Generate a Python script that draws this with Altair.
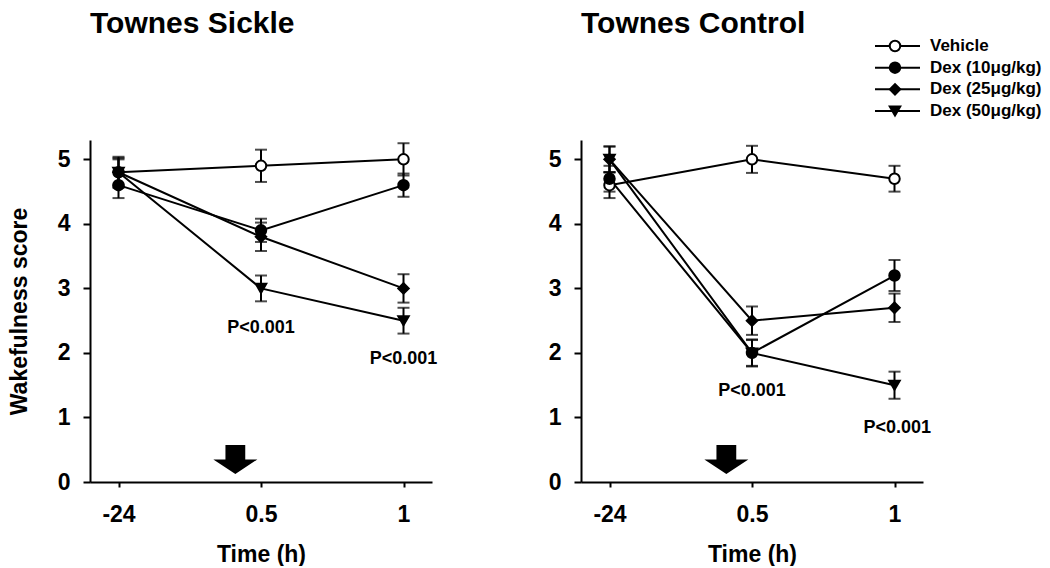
import altair as alt
import pandas as pd

FONT = "Liberation Sans"

series = ["Vehicle", "Dex (10μg/kg)", "Dex (25μg/kg)", "Dex (50μg/kg)"]
time_labels = ["-24", "0.5", "1"]
time_index = [0, 1, 2]

# Townes Sickle: means and SEM per series (Vehicle, Dex10, Dex25, Dex50)
sickle_vehicle = [4.8, 4.9, 5.0]
sickle_dex10 = [4.6, 3.9, 4.6]
sickle_dex25 = [4.8, 3.8, 3.0]
sickle_dex50 = [4.8, 3.0, 2.5]
sickle_vehicle_err = [0.22, 0.25, 0.25]
sickle_dex10_err = [0.2, 0.18, 0.18]
sickle_dex25_err = [0.24, 0.22, 0.22]
sickle_dex50_err = [0.2, 0.2, 0.2]

# Townes Control
control_vehicle = [4.6, 5.0, 4.7]
control_dex10 = [4.7, 2.0, 3.2]
control_dex25 = [5.0, 2.5, 2.7]
control_dex50 = [5.0, 2.0, 1.5]
control_vehicle_err = [0.2, 0.21, 0.2]
control_dex10_err = [0.2, 0.21, 0.24]
control_dex25_err = [0.2, 0.22, 0.22]
control_dex50_err = [0.2, 0.2, 0.21]

# P-value annotations (x in time-index units, y in score units)
p_label = "P<0.001"
sickle_p_x = [1.0, 2.0]
sickle_p_y = [2.38, 1.91]
control_p_x = [1.0, 2.02]
control_p_y = [1.41, 0.83]

# Dosing arrow position
arrow_x = [0.82]
arrow_y = [0.35]

shape_range = ["circle", "circle", "diamond", "triangle-down"]
fill_range = ["white", "black", "black", "black"]
size_range = [110, 110, 200, 170]
ARROW_PATH = "M-0.45,-0.66 L0.45,-0.66 L0.45,0 L1,0 L0,0.66 L-1,0 L-0.45,0 Z"

label_expr = "[" + ",".join("'%s'" % l for l in time_labels) + "][datum.value]"


def build_df(means, errs):
    rows = []
    for s, m, e in zip(series, means, errs):
        for t, v, ee in zip(time_index, m, e):
            rows.append({"series": s, "t": t, "mean": v, "lo": v - ee, "hi": v + ee})
    return pd.DataFrame(rows)


def panel(means, errs, px, py, ytitle):
    df = build_df(means, errs)
    xscale = alt.Scale(domain=[-0.2, 2.2], nice=False, zero=False)
    yscale = alt.Scale(domain=[0, 5.3], nice=False, zero=False)
    xaxis = alt.Axis(values=time_index, labelExpr=label_expr, title="Time (h)")
    yaxis = alt.Axis(values=[0, 1, 2, 3, 4, 5], format="d", title=ytitle)

    def X(f):
        return alt.X(f, scale=xscale, axis=xaxis)

    def Y(f):
        return alt.Y(f, scale=yscale, axis=yaxis)

    shape = alt.Shape("series:N", scale=alt.Scale(domain=series, range=shape_range), legend=None)
    fill = alt.Fill("series:N", scale=alt.Scale(domain=series, range=fill_range), legend=None)
    size = alt.Size("series:N", scale=alt.Scale(domain=series, range=size_range), legend=None)

    base = alt.Chart(df)
    lines = base.mark_line(color="black", strokeWidth=2).encode(
        x=X("t:Q"), y=Y("mean:Q"), detail="series:N", order="t:Q")
    bars = base.mark_rule(color="black", strokeWidth=2).encode(
        x=X("t:Q"), y=Y("lo:Q"), y2="hi:Q")
    cap_lo = base.mark_tick(color="black", orient="horizontal", size=12, thickness=2).encode(
        x=X("t:Q"), y=Y("lo:Q"))
    cap_hi = base.mark_tick(color="black", orient="horizontal", size=12, thickness=2).encode(
        x=X("t:Q"), y=Y("hi:Q"))
    pts = base.mark_point(filled=True, stroke="black", strokeWidth=2, opacity=1).encode(
        x=X("t:Q"), y=Y("mean:Q"), shape=shape, fill=fill, size=size)

    pdf = pd.DataFrame({"x": px, "y": py, "label": [p_label] * len(px)})
    ptext = alt.Chart(pdf).mark_text(font=FONT, fontSize=18, fontWeight="bold", color="black").encode(
        x=X("x:Q"), y=Y("y:Q"), text="label:N")

    adf = pd.DataFrame({"x": arrow_x, "y": arrow_y})
    arrow = alt.Chart(adf).mark_point(shape=ARROW_PATH, size=1936, filled=True, color="black", opacity=1).encode(
        x=X("x:Q"), y=Y("y:Q"))

    return alt.layer(lines, bars, cap_lo, cap_hi, pts, ptext, arrow)


def ttl(text, offset):
    return alt.Title(text, anchor="start", frame="group", font=FONT, fontSize=30,
                     fontWeight="bold", color="black", offset=offset)


left = panel([sickle_vehicle, sickle_dex10, sickle_dex25, sickle_dex50],
             [sickle_vehicle_err, sickle_dex10_err, sickle_dex25_err, sickle_dex50_err],
             sickle_p_x, sickle_p_y, "Wakefulness score").properties(
    width=342, height=342, title=ttl("Townes Sickle", 101))

right_data = panel([control_vehicle, control_dex10, control_dex25, control_dex50],
                   [control_vehicle_err, control_dex10_err, control_dex25_err, control_dex50_err],
                   control_p_x, control_p_y, None)

# legend drawn as marks above the right panel
leg_df = pd.DataFrame({"series": series})
leg_y = alt.Y("series:N", sort=series,
              scale=alt.Scale(type="point", domain=series, range=[-94, -29], padding=0), axis=None)
leg_shape = alt.Shape("series:N", scale=alt.Scale(domain=series, range=shape_range), legend=None)
leg_fill = alt.Fill("series:N", scale=alt.Scale(domain=series, range=fill_range), legend=None)
leg_size = alt.Size("series:N", scale=alt.Scale(domain=series, range=size_range), legend=None)
leg_rule = alt.Chart(leg_df).mark_rule(color="black", strokeWidth=2).encode(
    x=alt.value(294), x2=alt.value(339), y=leg_y)
leg_pt = alt.Chart(leg_df).mark_point(filled=True, stroke="black", strokeWidth=2, opacity=1).encode(
    x=alt.value(314), y=leg_y, shape=leg_shape, fill=leg_fill, size=leg_size)
leg_txt = alt.Chart(leg_df).mark_text(align="left", baseline="middle", font=FONT, fontSize=17,
                                       fontWeight="bold", color="black").encode(
    x=alt.value(349), y=leg_y, text="series:N")
legend = alt.layer(leg_rule, leg_pt, leg_txt)

right = alt.layer(right_data, legend).resolve_scale(y="independent").properties(
    width=342, height=342, title=ttl("Townes Control", -2))

chart = alt.hconcat(left, right, spacing=110).properties(
    padding={"left": 0, "top": 0, "right": 0, "bottom": 0}
).configure_view(stroke=None).configure_axis(
    grid=False, domainColor="black", domainWidth=2, tickColor="black", tickWidth=2,
    labelFont=FONT, labelFontSize=23, labelFontWeight="bold", labelColor="black",
    titleFont=FONT, titleFontSize=23, titleFontWeight="bold", titleColor="black",
    labelFlush=False
).configure_axisX(tickSize=5, labelPadding=16, titlePadding=17).configure_axisY(
    tickSize=7, labelPadding=13, titlePadding=26)

chart.save("out.html", embed_options={"renderer": "svg", "actions": False})
